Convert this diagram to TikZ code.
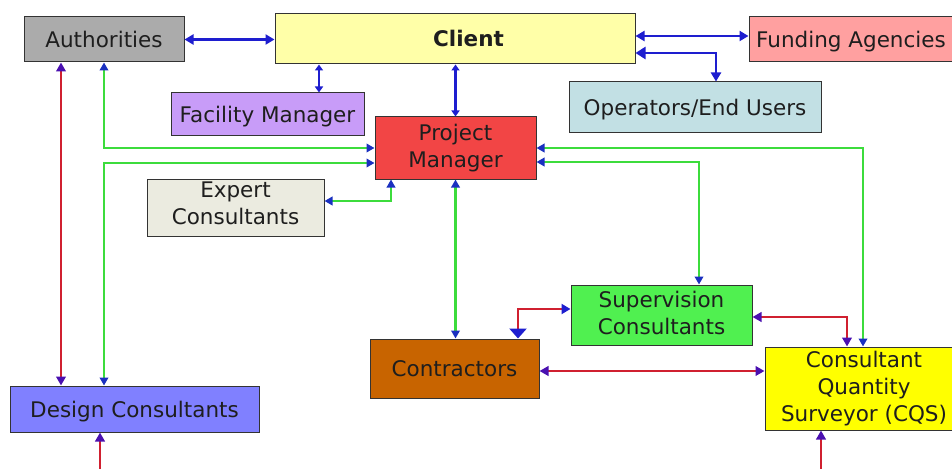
\documentclass[tikz,border=0pt]{standalone}
\usepackage{fontspec}
\setmainfont{DejaVu Sans}
\usetikzlibrary{arrows.meta}

\definecolor{boxline}{HTML}{333333}
\definecolor{txt}{HTML}{1E1E1E}
\definecolor{authgrey}{HTML}{ABABAB}
\definecolor{clientyel}{HTML}{FFFFA8}
\definecolor{fundpink}{HTML}{FFA0A0}
\definecolor{operblue}{HTML}{C2E0E4}
\definecolor{faclav}{HTML}{C89CF8}
\definecolor{pmred}{HTML}{F24545}
\definecolor{expgrey}{HTML}{EBEBE0}
\definecolor{contrbrown}{HTML}{C86400}
\definecolor{supgreen}{HTML}{50F050}
\definecolor{cqsyel}{HTML}{FFFF00}
\definecolor{desblue}{HTML}{8080FF}
\definecolor{lineblue}{HTML}{1E1ECF}
\definecolor{linegreen}{HTML}{3CDC3C}
\definecolor{linered}{HTML}{D02030}
\definecolor{tipblue}{HTML}{1A30C0}
\definecolor{tippurple}{HTML}{4A10B0}

\begin{document}
\begin{tikzpicture}[x=1pt,y=-1pt,
  box/.style={draw=boxline, line width=1pt, inner sep=0pt, text=txt,
    font=\fontsize{21.5}{27}\selectfont, align=center},
  oneline/.style={text height=16pt, text depth=0pt},
  bluelink/.style={draw=lineblue, line width=2.5pt, {Triangle[length=9pt,width=10pt,color=lineblue]}-{Triangle[length=9pt,width=10pt,color=lineblue]}},
  smallblue/.style={draw=lineblue, line width=2.2pt, {Triangle[length=6pt,width=8pt,color=lineblue]}-{Triangle[length=6pt,width=8pt,color=lineblue]}},
  greenlink/.style={draw=linegreen, line width=2.2pt, {Triangle[length=8pt,width=8.5pt,color=tipblue]}-{Triangle[length=8pt,width=8.5pt,color=tipblue]}},
  redlink/.style={draw=linered, line width=2.5pt, {Triangle[length=9pt,width=9.5pt,color=tippurple]}-{Triangle[length=9pt,width=9.5pt,color=tippurple]}},
  line join=miter]

\useasboundingbox (0,0) rectangle (952,468);
\clip (0,0) rectangle (952,468);
\fill[white] (0,0) rectangle (952,468);

% boxes
\node[box, oneline, fill=authgrey, minimum width=160pt, minimum height=45pt] (auth) at (104,39.5) {Authorities};
\node[box, oneline, fill=clientyel, minimum width=360pt, minimum height=50pt] (client) at (455,39) {\hspace*{27pt}\bfseries Client};
\node[box, oneline, fill=fundpink, minimum width=204pt, minimum height=45pt] (fund) at (851,39.5) {Funding Agencies};
\node[box, oneline, fill=operblue, minimum width=252pt, minimum height=50pt] (oper) at (695,107) {Operators/End Users};
\node[box, oneline, fill=faclav, minimum width=193pt, minimum height=42pt] (fac) at (267.5,114) {Facility Manager};
\node[box, fill=pmred, minimum width=161pt, minimum height=62pt] (pm) at (455.5,148) {Project\\Manager};
\node[box, fill=expgrey, minimum width=177pt, minimum height=57pt] (expert) at (235.5,207.5) {Expert\\Consultants\rule[-8pt]{0pt}{8pt}};
\node[box, fill=supgreen, minimum width=181pt, minimum height=60pt] (sup) at (661.5,315) {Supervision\\Consultants\rule[-4pt]{0pt}{4pt}};
\node[box, oneline, fill=contrbrown, minimum width=169pt, minimum height=59pt] (contr) at (454.5,368.5) {Contractors};
\node[box, fill=cqsyel, minimum width=198pt, minimum height=83pt] (cqs) at (864,388.5) {Consultant\\Quantity\\Surveyor (CQS)};
\node[box, oneline, fill=desblue, minimum width=249pt, minimum height=46pt] (design) at (134.5,409) {Design Consultants};

% client links (blue)
\draw[bluelink] (auth.east) -- (auth.east -| client.west);
\draw[bluelink] ([yshift=3pt]client.east) -- ([yshift=3pt]client.east -| fund.west);
\draw[draw=lineblue, line width=2.5pt, {Triangle[length=10pt,width=12pt,color=lineblue]}-{Triangle[length=9pt,width=10pt,color=lineblue]}]
  ([yshift=-14pt]client.east) -| ([xshift=21pt]oper.north);
\draw[smallblue] ([xshift=51.5pt]fac.north) -- ([xshift=51.5pt]fac.north |- client.south);
\draw[smallblue] (pm.north) -- (pm.north |- client.south);

% project manager links (green)
\draw[greenlink] (auth.south) |- (pm.west);
\draw[greenlink] ([xshift=-30.5pt]design.north) |- ([yshift=-15pt]pm.west);
\draw[greenlink] ([yshift=6.5pt]expert.east) -| ([xshift=-64.5pt]pm.south);
\draw[greenlink] (pm.south) -- (pm.south |- contr.north);
\draw[greenlink] (pm.east) -| ([xshift=-1pt]cqs.north);
\draw[greenlink] ([yshift=-14pt]pm.east) -| ([xshift=37.5pt]sup.north);

% consultant and contractor links (red)
\draw[redlink] ([xshift=-43pt]auth.south) -- ([xshift=-43pt]auth.south |- design.north);
\draw[draw=linered, line width=2.5pt, {Triangle[length=10pt,width=17pt,color=lineblue]}-{Triangle[length=9pt,width=10pt,color=lineblue]}]
  ([xshift=63.5pt]contr.north) |- ([yshift=6pt]sup.west);
\draw[redlink] ([yshift=-2.5pt]contr.east) -- ([yshift=-2.5pt]contr.east -| cqs.west);
\draw[redlink] ([yshift=-2pt]sup.east) -| ([xshift=-17pt]cqs.north);
\draw[redlink] ([xshift=-34.5pt]design.south) -- ++(0,38.5) -| ([xshift=-43pt]cqs.south);

\end{tikzpicture}
\end{document}
